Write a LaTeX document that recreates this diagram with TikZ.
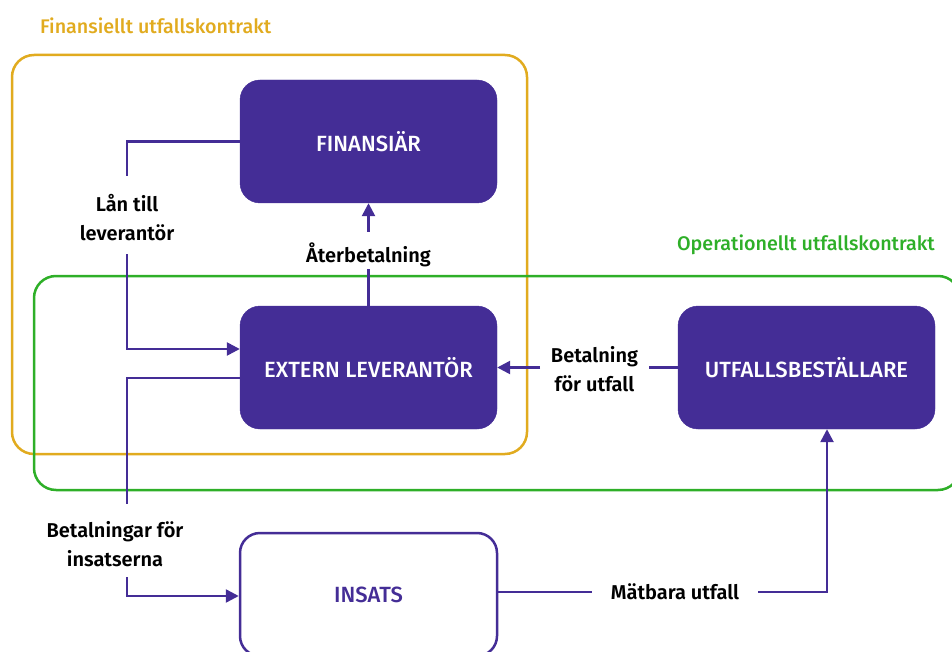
\documentclass[tikz,border=0pt]{standalone}
\usepackage{fontspec}
\setmainfont{Fira Sans}
\newfontfamily\medfont{Fira Sans Medium}
\newfontfamily\semifont{Fira Sans SemiBold}
\usetikzlibrary{arrows.meta,calc}
\definecolor{brandpurple}{HTML}{442D96}
\definecolor{contractgold}{HTML}{E1AB1F}
\definecolor{contractgreen}{HTML}{2EAF28}
\tikzset{
  actor/.style={fill=brandpurple, draw=brandpurple, rounded corners=20pt,
    minimum width=257pt, minimum height=123pt, inner sep=0pt, text=white,
    font=\medfont\fontsize{22}{26}\selectfont},
  outlinebox/.style={fill=white, draw=brandpurple, line width=2.5pt, rounded corners=20pt,
    minimum width=257pt, minimum height=123pt, inner sep=0pt, text=brandpurple,
    font=\medfont\fontsize{22}{26}\selectfont},
  contract/.style={line width=2.5pt, rounded corners=22pt},
  flow/.style={draw=brandpurple, line width=2.5pt},
  tip/.style={-{Triangle[length=13pt,width=13pt]}},
  flowlabel/.style={font=\semifont\fontsize{20}{29}\selectfont, align=center, inner sep=0pt},
  contracttitle/.style={font=\medfont\fontsize{19.7}{22}\selectfont, inner sep=0pt}
}
\begin{document}
\begin{tikzpicture}[x=1pt,y=-1pt]
\useasboundingbox (0,0) rectangle (952,652);

% contract frames
\draw[contract, draw=contractgold] (12,55) rectangle (527,454);
\draw[contract, draw=contractgreen] (34,276) rectangle (960,490);
\node[contracttitle, text=contractgold, anchor=west] (fintitle) at (40,26) {Finansiellt utfallskontrakt};
\node[contracttitle, text=contractgreen, anchor=east] (optitle) at (935,245) {Operationellt utfallskontrakt};

% actors
\node[actor] (fin) at (368.5,141.5) {FINANSIÄR};
\node[actor] (ext) at (368.5,367.5) {EXTERN LEVERANTÖR};
\node[actor] (utf) at (806.5,367.5) {UTFALLSBESTÄLLARE};
\node[outlinebox] (ins) at (368.5,594.5) {INSATS};

% flow labels
\node[flowlabel] (lan) at (127,218) {Lån till\\leverantör};
\node[flowlabel] (ater) at (368.5,255) {Återbetalning};
\node[flowlabel] (bfu) at (594.5,369.5) {Betalning\\för utfall};
\node[flowlabel] (bfi) at (115,544.5) {Betalningar för\\insatserna};
\node[flowlabel] (mat) at (675,592) {Mätbara utfall};

% break points of the connectors around their labels
\coordinate (lanA) at (127,176);
\coordinate (lanB) at (127,254);
\coordinate (aterA) at (368.5,232);
\coordinate (aterB) at (368.5,269);
\coordinate (bfuA) at (540,367.5);
\coordinate (bfuB) at (649,367.5);
\coordinate (bfiA) at (127,504);
\coordinate (bfiB) at (127,577);
\coordinate (matA) at (592,592);
\coordinate (matB) at (758,592);
\coordinate (utfIn) at ($(utf.south)+(20.5,0)$);

% loan to the supplier
\draw[flow] (fin.west) -| (lanA);
\draw[flow, tip] (lanB) |- ($(ext.west)+(0,-18.5)$);
% repayment
\draw[flow] (ext.north) -- (aterB);
\draw[flow, tip] (aterA) -- (fin.south);
% payment for outcomes
\draw[flow] (utf.west) -- (bfuB);
\draw[flow, tip] (bfuA) -- (ext.east);
% payments for the interventions
\draw[flow] ($(ext.west)+(0,10.5)$) -| (bfiA);
\draw[flow, tip] (bfiB) |- ($(ins.west)+(0,1.5)$);
% measurable outcomes
\draw[flow] (ins.east |- matA) -- (matA);
\draw[flow, tip] (matB) -| (utfIn);
\end{tikzpicture}
\end{document}
